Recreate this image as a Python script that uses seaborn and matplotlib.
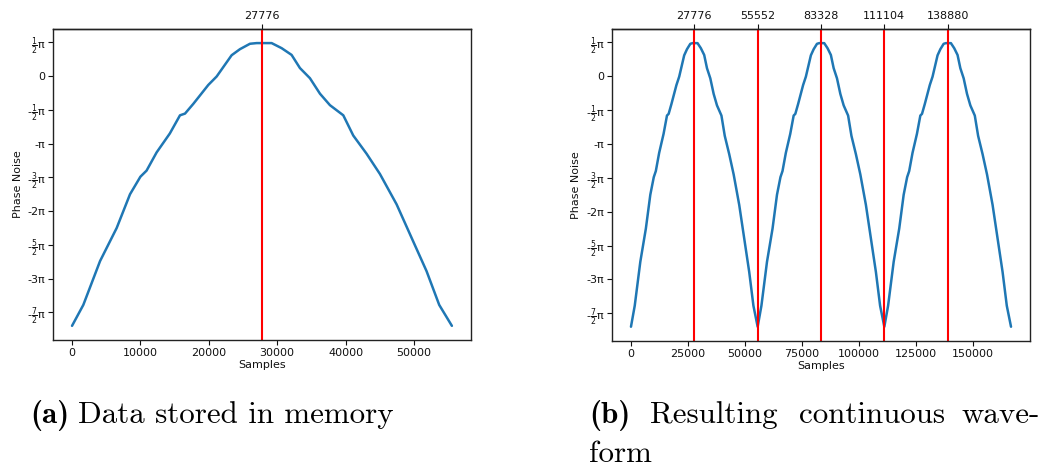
import numpy as np
import matplotlib
matplotlib.use("Agg")
import matplotlib.pyplot as plt
import seaborn as sns

# ---- data (phase in units of pi) ----
samples = [0, 1650, 4100, 6530, 8480, 10000, 10900, 12370, 14300, 15790,
           16520, 17740, 19930, 21150, 23340, 24560, 26020, 27000, 28500,
           29190, 30650, 32110, 33330, 34790, 36260, 37720, 39670, 41130,
           43080, 45030, 47470, 49900, 51850, 53700, 55552]
phase_pi = [-3.70, -3.39, -2.74, -2.25, -1.75, -1.49, -1.40, -1.13, -0.85, -0.58,
            -0.555, -0.41, -0.13, -0.005, 0.31, 0.40, 0.48, 0.49, 0.49,
            0.49, 0.415, 0.315, 0.12, -0.03, -0.26, -0.43, -0.58, -0.88,
            -1.15, -1.45, -1.90, -2.45, -2.89, -3.39, -3.70]
buffer_len = 55552
n_repeats = 3
marks_a = [27776]
marks_b = [27776, 55552, 83328, 111104, 138880]

ytick_pi = [0.5, 0, -0.5, -1, -1.5, -2, -2.5, -3, -3.5]
ytick_labels = [r"$\frac{1}{2}$π", "0", r"-$\frac{1}{2}$π", "-π", r"-$\frac{3}{2}$π",
                "-2π", r"-$\frac{5}{2}$π", "-3π", r"-$\frac{7}{2}$π"]

# ---- style ----
sns.set_theme(style="ticks")
plt.rcParams["font.family"] = ["DejaVu Sans"]
plt.rcParams["axes.edgecolor"] = "#222222"
plt.rcParams["axes.linewidth"] = 1.0

s = np.array(samples, dtype=float)
y = np.array(phase_pi) * np.pi
s_b = np.concatenate([s + k * buffer_len for k in range(n_repeats)])
y_b = np.tile(y, n_repeats)

fig = plt.figure(figsize=(10.42, 4.67), dpi=100)
ax_a = fig.add_axes([0.0509, 0.272, 0.401, 0.666])
ax_b = fig.add_axes([0.5873, 0.270, 0.4012, 0.668])

for ax, xs, ys, marks in [(ax_a, s, y, marks_a), (ax_b, s_b, y_b, marks_b)]:
    sns.lineplot(x=xs, y=ys, ax=ax, color="#1f77b4", linewidth=1.8,
                 estimator=None, sort=False)
    for m in marks:
        ax.axvline(m, color="red", linewidth=1.5)
    ax.set_yticks(np.array(ytick_pi) * np.pi)
    ax.set_yticklabels(ytick_labels)
    ax.set_xlabel("Samples", fontsize=8, labelpad=2, color="#111111")
    ax.set_ylabel("Phase Noise", fontsize=8, labelpad=3, color="#111111")
    ax.tick_params(labelsize=8, length=3.5, width=0.8, pad=2, colors="#111111")
    top = ax.secondary_xaxis("top")
    top.set_xticks(marks)
    top.set_xticklabels([str(m) for m in marks])
    top.tick_params(labelsize=8, length=3.5, width=0.8, pad=2, colors="#111111")
    for sp in ax.spines.values():
        sp.set_visible(True)

# ---- captions ----
cap = dict(fontsize=22.3, va="baseline", ha="left", color="black")
fig.text(30 / 1042, 1 - 423 / 467, "(a)", family="cmb10", **cap)
fig.text(78 / 1042, 1 - 423 / 467, "Data stored in memory", family="cmr10", **cap)

fig.text(589 / 1042, 1 - 423 / 467, "(b)", family="cmb10", **cap)
fig.text(650 / 1042, 1 - 423 / 467, "Resulting", family="cmr10", **cap)
fig.text(799 / 1042, 1 - 423 / 467, "continuous", family="cmr10", **cap)
fig.text(1040 / 1042, 1 - 423 / 467, "wave-", family="cmr10", fontsize=22.3,
         va="baseline", ha="right", color="black")
fig.text(589 / 1042, 1 - 462 / 467, "form", family="cmr10", **cap)

fig.savefig("out.png", dpi=100)
